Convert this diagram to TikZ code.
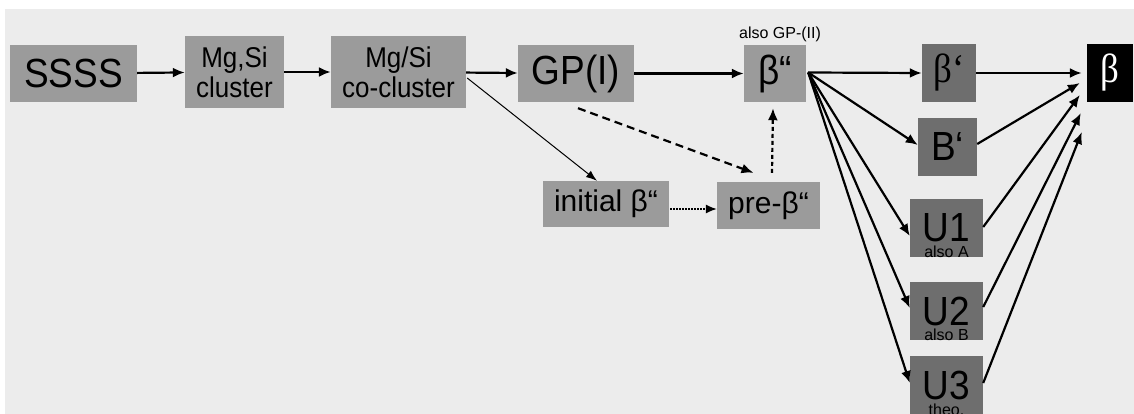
\documentclass[tikz,border=0pt]{standalone}
\usepackage{fontspec}
\usepackage{graphicx}
\setmainfont{Liberation Sans}
\newfontfamily\serifb{Liberation Serif}
\usetikzlibrary{arrows.meta,calc}
\definecolor{bgc}{RGB}{236,236,236}
\definecolor{lbox}{RGB}{155,155,155}
\definecolor{dbox}{RGB}{110,110,110}
\newcommand\vst[1]{\scalebox{1}[1.1]{#1}}
\begin{document}
\begin{tikzpicture}[x=1pt,y=-1pt,
  box/.style={fill=lbox, inner sep=0pt, text=black, align=center},
  dbx/.style={fill=dbox, inner sep=0pt, text=black, align=center},
  big/.style={font=\fontsize{37}{40}\selectfont},
  mid/.style={font=\fontsize{26}{30}\selectfont},
  med/.style={font=\fontsize{30}{34}\selectfont},
  sml/.style={font=\fontsize{16}{18}\selectfont},
  arr/.style={line width=2.2pt, -{Latex[length=12pt,width=10pt]}},
  thin/.style={line width=1pt, -{Latex[length=11pt,width=8pt]}},
  dsh/.style={line width=2.2pt, dash pattern=on 8pt off 5pt, -{Latex[length=12pt,width=10pt]}},
  dts/.style={line width=2.2pt, dash pattern=on 4pt off 3pt, -{Latex[length=12pt,width=10pt]}},
  fdt/.style={line width=1.3pt, dash pattern=on 1.5pt off 1.5pt, -{Latex[length=11pt,width=9pt]}}
]
\useasboundingbox (0,0) rectangle (1134,414);
\fill[white] (0,0) rectangle (1134,414);
\fill[bgc] (5,9) rectangle (1134,414);

% nodes
\node[box,big,minimum width=127pt,minimum height=57pt] (ssss) at (73.5,73.5) {\vst{SSSS}};
\node[box,mid,minimum width=99pt,minimum height=72pt] (mgsi) at (234.5,72) {\vst{Mg,Si}\\\vst{cluster}};
\node[box,mid,minimum width=135pt,minimum height=72pt] (cocl) at (398.5,72) {\vst{Mg/Si}\\\vst{co-cluster}};
\node[box,big,minimum width=116pt,minimum height=57pt] (gp1) at (576,73.5) {\vst{GP(I)}};
\node[box,big,minimum width=62pt,minimum height=57pt] (b2) at (775,73.5) {\vst{β“}};
\node[sml] (b2l) at ($(b2.north)+(5,-10)$) {also GP-(II)};
\node[dbx,big,minimum width=54pt,minimum height=58pt] (bp) at (949,73) {\serifb\vst{β‘}};
\node[fill=black,inner sep=0pt,text=white,big,minimum width=46pt,minimum height=58pt] (beta) at (1110,73) {\serifb\vst{β}};
\node[dbx,big,minimum width=59pt,minimum height=58pt] (Bp) at (947.5,147) {\vst{B‘}};
\node[dbx,big,minimum width=73pt,minimum height=58pt] (u1) at (946.5,228) {\vst{U1}};
\node[sml] (u1l) at ($(u1.south)+(0,-5)$) {also A};
\node[dbx,big,minimum width=73pt,minimum height=58pt] (u2) at (946.5,311) {\vst{U2}};
\node[sml] (u2l) at ($(u2.south)+(0,-5)$) {also B};
\node[dbx,big,minimum width=73pt,minimum height=58pt] (u3) at (946.5,385) {\vst{U3}};
\node[sml] (u3l) at ($(u3.south)+(0,-4)$) {theo.};
\node[box,med,minimum width=126pt,minimum height=46pt] (init) at (606,204) {initial β“};
\node[box,med,minimum width=103pt,minimum height=47pt] (pre) at (768.5,205.5) {pre-β“};

% main chain
\draw[arr] (ssss) -- (mgsi);
\draw[arr] (mgsi) -- (cocl);
\draw[arr] (cocl) -- (gp1);
\draw[arr] (gp1) -- (b2);

% branches
\draw[thin] ($(cocl.east)+(1,6)$) -- ($(init.north)+(-9,0)$);
\draw[dsh] ($(gp1.south)+(2,6)$) -- ($(pre.north)+(-15,-9)$);
\draw[dts] ($(pre.north)+(3.5,-9)$) -- ($(b2.south)+(-2,6)$);
\draw[fdt] ($(init.east)+(1,5)$) -- ($(pre.west)+(0,3.5)$);

% fan from beta''
\coordinate (fan) at ($(b2.east)+(2,-1)$);
\draw[arr] (fan) -- (bp.west);
\draw[arr] (fan) -- ($(Bp.west)+(0,-2)$);
\draw[arr] (fan) -- ($(u1.west)+(0,8)$);
\draw[arr] (fan) -- ($(u2.west)+(0,-3)$);
\draw[arr] (fan) -- ($(u3.west)+(0,-2)$);

% into beta
\coordinate (e1) at ($(beta.west)+(-7,10)$);
\coordinate (e2) at ($(beta.west)+(-7,22)$);
\coordinate (e3) at ($(beta.west)+(-6,40)$);
\coordinate (e4) at ($(beta.west)+(-5,59)$);
\draw[arr, shorten >=5pt] (bp.east) -- (beta.west);
\draw[arr] ($(Bp.east)+(0,-3)$) -- (e1);
\draw[arr] ($(u1.east)+(0,-1)$) -- (e2);
\draw[arr] ($(u2.east)+(0,-4)$) -- (e3);
\draw[arr] ($(u3.east)+(0,-2)$) -- (e4);
\end{tikzpicture}
\end{document}
